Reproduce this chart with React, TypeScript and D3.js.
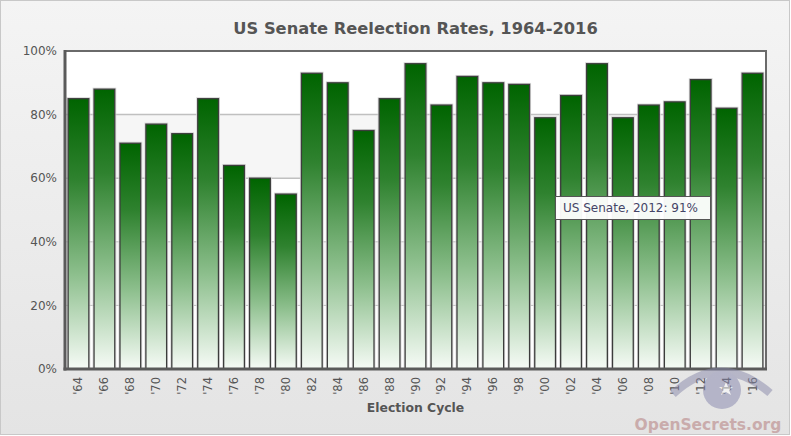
import React from 'react';
import * as d3 from 'd3';

const width = 791;
const height = 436;

const years = ['64', '66', '68', '70', '72', '74', '76', '78', '80', '82', '84', '86', '88', '90', '92', '94', '96', '98', '00', '02', '04', '06', '08', '10', '12', '14', '16'];
const rates = [85, 88, 71, 77, 74, 85, 64, 60, 55, 93, 90, 75, 85, 96, 83, 92, 90, 89.5, 79, 86, 96, 79, 83, 84, 91, 82, 93];
const yTicks = [0, 20, 40, 60, 80, 100];

const margin = { left: 65, right: 25, top: 51, bottom: 67 };
const font = 'Verdana, "DejaVu Sans", sans-serif';

const App: React.FC = () => {
  const x = d3
    .scaleBand<string>()
    .domain(years)
    .range([margin.left, width - margin.right])
    .paddingInner(0.2)
    .paddingOuter(0.12);
  const y = d3
    .scaleLinear()
    .domain([0, 100])
    .range([height - margin.bottom, margin.top]);

  const plotW = width - margin.left - margin.right;
  const midX = margin.left + plotW / 2;

  return (
    <div style={{ position: 'absolute', left: 0, top: 0 }}>
      <svg width={width} height={height} style={{ display: 'block', fontFamily: font }}>
        <defs>
          <linearGradient id="bg" x1="0" y1="0" x2="0" y2="1">
            <stop offset="0" stopColor="#f4f4f4" />
            <stop offset="1" stopColor="#e4e4e4" />
          </linearGradient>
          <linearGradient id="bar" x1="0" y1="0" x2="0" y2="1">
            <stop offset="0" stopColor="#006400" />
            <stop offset="0.3" stopColor="#2f822f" />
            <stop offset="0.65" stopColor="#8dbf8d" />
            <stop offset="1" stopColor="#f6fbf6" />
          </linearGradient>
        </defs>
        <rect x={0.5} y={0.5} width={width - 2} height={height - 2} fill="url(#bg)" stroke="#c8c8c8" />

        <text x={midX} y={34} textAnchor="middle" fontSize={16.3} fontWeight="bold" fill="#555">
          US Senate Reelection Rates, 1964-2016
        </text>

        {/* plot bands */}
        {yTicks.slice(0, -1).map((t, i) => (
          <rect
            key={'band' + t}
            x={margin.left}
            y={y(t + 20)}
            width={plotW}
            height={y(t) - y(t + 20)}
            fill={i % 2 === 1 ? '#f6f6f6' : '#ffffff'}
          />
        ))}
        {yTicks.slice(1, -1).map(t => (
          <line
            key={'grid' + t}
            x1={margin.left}
            x2={width - margin.right}
            y1={y(t)}
            y2={y(t)}
            stroke="#c0c0c0"
            strokeWidth={t === 80 || t === 60 ? 1.5 : 1}
          />
        ))}

        {rates.map((v, i) => (
          <g key={years[i]}>
            <rect
              x={x(years[i])! - 1}
              y={y(v) - 1}
              width={x.bandwidth() + 2}
              height={y(0) - y(v) + 1}
              fill="none"
              stroke="#d8d8d8"
              strokeWidth={1}
            />
            <rect
              x={x(years[i])}
              y={y(v)}
              width={x.bandwidth()}
              height={y(0) - y(v)}
              fill="url(#bar)"
              stroke="#3c3c3c"
              strokeWidth={1.3}
            />
          </g>
        ))}

        {/* frame */}
        <rect
          x={margin.left}
          y={margin.top}
          width={plotW}
          height={y(0) - margin.top}
          fill="none"
          stroke="#6a6a6a"
          strokeWidth={2}
        />
        <line x1={margin.left} x2={margin.left} y1={margin.top - 1} y2={y(0) + 1.5} stroke="#5a5a5a" strokeWidth={3} />
        <line x1={margin.left - 1.5} x2={width - margin.right + 1} y1={y(0)} y2={y(0)} stroke="#5a5a5a" strokeWidth={3} />

        {yTicks.map(t => (
          <text key={'yl' + t} x={57} y={y(t)} dy="0.35em" textAnchor="end" fontSize={12} fill="#555">
            {t}%
          </text>
        ))}

        {years.map(yr => (
          <text
            key={'xl' + yr}
            transform={`translate(${x(yr)! + x.bandwidth() / 2 + 4},${y(0) + 8}) rotate(-90)`}
            textAnchor="end"
            fontSize={11.5}
            fill="#555"
          >
            {"'" + yr}
          </text>
        ))}

        <text x={midX} y={412} textAnchor="middle" fontSize={12.4} fontWeight="bold" fill="#555">
          Election Cycle
        </text>

        {/* watermark */}
        <g opacity={0.5}>
          <path d="M673,394 Q720,350 770,393" fill="none" stroke="#8888aa" strokeWidth={8} />
          <circle cx={722} cy={390} r={19} fill="#8484ac" />
          <path d="M726,382 l2,5 5,0 -4,3 2,5 -5,-3 -5,3 2,-5 -4,-3 5,0z" fill="#ffffff" />
          <text x={708} y={430} textAnchor="middle" fontSize={15.5} fontWeight="bold" fill="#b07474">
            OpenSecrets.org
          </text>
        </g>

        {/* tooltip */}
        <g transform="translate(555,196)">
          <rect x={0.5} y={0.5} width={155} height={23} fill="#ffffff" fillOpacity={0.95} stroke="#555" strokeWidth={1} />
          <text x={8} y={16} fontSize={12} fill="#444466">
            US Senate, 2012: 91%
          </text>
        </g>
      </svg>
    </div>
  );
};

export default App;
